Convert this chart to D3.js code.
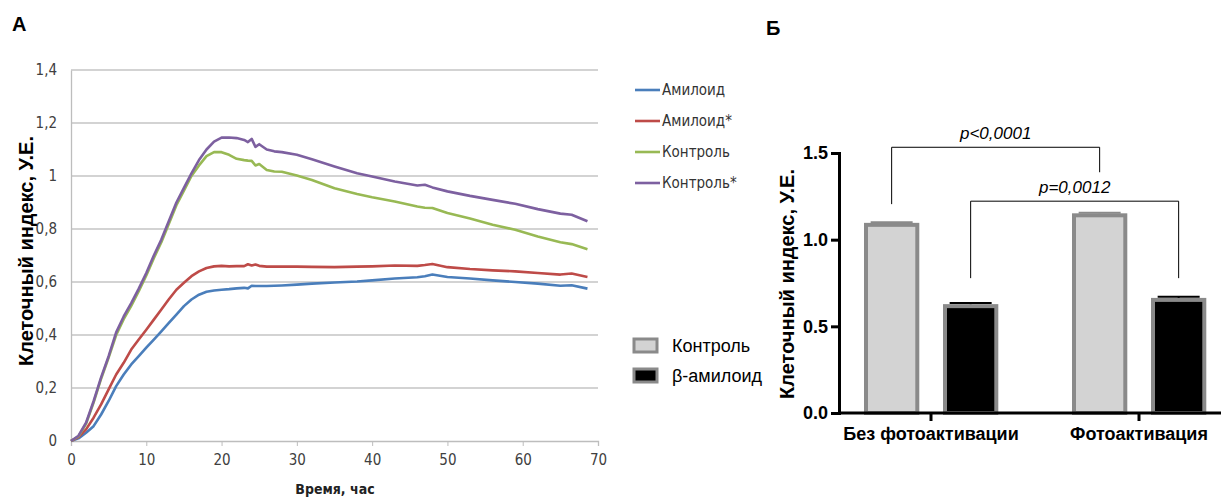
<!DOCTYPE html>
<html>
<head>
<meta charset="utf-8">
<script src="https://cdn.jsdelivr.net/npm/d3@7"></script>
<style>
    body { margin: 0; background: #fff; }
    svg { display: block; }
    .narrow { font-family: 'Liberation Sans Narrow', 'DejaVu Sans Condensed', sans-serif; }
    .arial { font-family: 'Liberation Sans', Arial, sans-serif; }
</style>
</head>
<body>
<svg id="chart" width="1221" height="499"></svg>
<script>
// Panel A: cell index over time (hours)
const HOURS = [0, 1, 2, 3, 4, 5, 6, 7, 8, 9, 10, 11, 12, 13, 14, 15, 16, 17, 18, 19, 20, 21, 22, 23, 23.5,
    24, 24.5, 25, 26, 27, 28, 30, 32, 35, 38, 40, 43, 46, 47, 48, 50, 53, 56, 59, 62, 65, 66.5, 68.6];

const AMYLOID = [0, 0.01, 0.031, 0.056, 0.10, 0.151, 0.207, 0.251, 0.289, 0.32, 0.352, 0.383, 0.414, 0.446, 0.477,
    0.509, 0.534, 0.552, 0.563, 0.568, 0.571, 0.573, 0.576, 0.578, 0.576, 0.586, 0.585, 0.585, 0.585, 0.586, 0.587,
    0.59, 0.594, 0.598, 0.602, 0.606, 0.613, 0.618, 0.622, 0.628, 0.619, 0.613, 0.606, 0.60, 0.594, 0.586, 0.588, 0.575];

const AMYLOID_STAR = [0, 0.015, 0.044, 0.088, 0.138, 0.195, 0.251, 0.295, 0.345, 0.383, 0.42, 0.458, 0.496, 0.535, 0.571,
    0.597, 0.622, 0.64, 0.653, 0.659, 0.661, 0.659, 0.66, 0.66, 0.667, 0.662, 0.666, 0.661, 0.658, 0.658, 0.658,
    0.658, 0.657, 0.656, 0.658, 0.659, 0.662, 0.661, 0.664, 0.668, 0.656, 0.649, 0.644, 0.64, 0.634, 0.628, 0.632, 0.619];

const CONTROL = [0, 0.018, 0.065, 0.145, 0.235, 0.315, 0.40, 0.46, 0.51, 0.565, 0.625, 0.69, 0.75, 0.82, 0.89,
    0.945, 1.0, 1.04, 1.075, 1.09, 1.09, 1.08, 1.065, 1.06, 1.058, 1.057, 1.04, 1.045, 1.023, 1.017, 1.016,
    1.002, 0.985, 0.954, 0.932, 0.92, 0.904, 0.885, 0.88, 0.879, 0.86, 0.84, 0.816, 0.797, 0.772, 0.75, 0.743, 0.724];

const CONTROL_STAR = [0, 0.02, 0.069, 0.15, 0.24, 0.32, 0.41, 0.47, 0.52, 0.575, 0.634, 0.70, 0.76, 0.83, 0.90,
    0.955, 1.01, 1.06, 1.10, 1.13, 1.145, 1.145, 1.143, 1.136, 1.128, 1.14, 1.11, 1.12, 1.10, 1.093, 1.09,
    1.08, 1.063, 1.036, 1.01, 0.998, 0.979, 0.964, 0.967, 0.957, 0.942, 0.925, 0.91, 0.895, 0.875, 0.858, 0.854, 0.829];

const LINE_NAMES = ['Амилоид', 'Амилоид*', 'Контроль', 'Контроль*'];
const LINE_VALUES = [AMYLOID, AMYLOID_STAR, CONTROL, CONTROL_STAR];
const LINE_COLORS = ['#4a7ebb', '#be4b48', '#98b954', '#7d60a0'];

const X_TICKS_A = [0, 10, 20, 30, 40, 50, 60, 70];
const Y_TICKS_A = [0, 0.2, 0.4, 0.6, 0.8, 1, 1.2, 1.4];

// Panel B: mean cell index
const GROUPS = ['Без фотоактивации', 'Фотоактивация'];
const BAR_SERIES = ['Контроль', 'β-амилоид'];
const BAR_VALUES = [[1.097, 0.628], [1.152, 0.664]];
const BAR_ERRORS = [[0.003, 0.006], [0.003, 0.006]];
const BAR_FILLS = ['#d3d3d3', '#000000'];
const Y_TICKS_B = [0, 0.5, 1.0, 1.5];

// significance brackets: [group, series] of both ends, level, leg ends, label
const BRACKETS = [
    { from: [0, 0], to: [1, 0], level: 1.533, legFrom: 1.205, legTo: 1.389, label: 'p<0,0001' },
    { from: [0, 1], to: [1, 1], level: 1.222, legFrom: 0.778, legTo: 0.778, label: 'p=0,0012' }
];

const svg = d3.select('#chart');

// ---------- panel A ----------
const xA = d3.scaleLinear().domain([0, 70]).range([71, 598]);
const yA = d3.scaleLinear().domain([0, 1.4]).range([441, 70]);
const gA = svg.append('g');

gA.append('g')
    .selectAll('line')
    .data(Y_TICKS_A.slice(1))
    .join('line')
    .attr('x1', xA(0)).attr('x2', xA(70))
    .attr('y1', d => yA(d)).attr('y2', d => yA(d))
    .attr('stroke', '#c4c4c4').attr('stroke-width', 1.3);

const axisXA = gA.append('g')
    .attr('transform', `translate(0,${yA(0)})`)
    .call(d3.axisBottom(xA).tickValues(X_TICKS_A).tickSize(5).tickPadding(8).tickFormat(d3.format('d')));
axisXA.select('.domain').attr('stroke', '#bdbdbd').attr('stroke-width', 1.3);
axisXA.selectAll('.tick line').attr('stroke', '#bdbdbd');
axisXA.selectAll('text').attr('class', 'narrow').attr('font-size', 15).attr('fill', '#404040');

const commaFmt = d => String(d).replace('.', ',');
const axisYA = gA.append('g')
    .attr('transform', `translate(${xA(0)},0)`)
    .call(d3.axisLeft(yA).tickValues(Y_TICKS_A).tickSize(0).tickPadding(14).tickFormat(commaFmt));
axisYA.select('.domain').attr('stroke', '#bdbdbd').attr('stroke-width', 1.3);
axisYA.selectAll('text').attr('class', 'narrow').attr('font-size', 15).attr('fill', '#404040');

const line = d3.line()
    .x((d, i) => xA(HOURS[i]))
    .y(d => yA(d));

gA.append('g')
    .selectAll('path')
    .data(LINE_VALUES)
    .join('path')
    .attr('d', d => line(d))
    .attr('fill', 'none')
    .attr('stroke', (d, i) => LINE_COLORS[i])
    .attr('stroke-width', 2.6)
    .attr('stroke-linejoin', 'round');

gA.append('text')
    .attr('class', 'arial')
    .attr('transform', 'translate(33,251) rotate(-90)')
    .attr('text-anchor', 'middle')
    .attr('font-size', 20).attr('font-weight', 'bold')
    .text('Клеточный индекс, У.Е.');

gA.append('text')
    .attr('class', 'narrow')
    .attr('x', 335).attr('y', 494)
    .attr('text-anchor', 'middle')
    .attr('font-size', 14).attr('font-weight', 'bold').attr('fill', '#222')
    .text('Время, час');

const legA = gA.append('g')
    .selectAll('g')
    .data(LINE_NAMES)
    .join('g')
    .attr('transform', (d, i) => `translate(635,${90 + i * 31})`);
legA.append('line')
    .attr('x1', 0).attr('x2', 25)
    .attr('stroke', (d, i) => LINE_COLORS[i]).attr('stroke-width', 2.6);
legA.append('text')
    .attr('class', 'narrow')
    .attr('x', 27).attr('y', 5)
    .attr('font-size', 15).attr('fill', '#333')
    .text(d => d);

svg.append('text')
    .attr('class', 'arial')
    .attr('x', 12).attr('y', 31)
    .attr('font-size', 20).attr('font-weight', 'bold')
    .text('А');

// ---------- panel B ----------
const x0 = d3.scaleBand().domain(GROUPS).range([827, 1243]);
const x1 = d3.scaleBand().domain(BAR_SERIES).range([37, 171.3]).paddingInner(0.3).paddingOuter(0);
const yB = d3.scaleLinear().domain([0, 1.5]).range([413, 153]);
const gB = svg.append('g');

const barCenter = (g, s) => x0(GROUPS[g]) + x1(BAR_SERIES[s]) + x1.bandwidth() / 2;

const groups = gB.append('g')
    .selectAll('g')
    .data(GROUPS)
    .join('g')
    .attr('transform', d => `translate(${x0(d)},0)`);

groups.selectAll('rect')
    .data((d, gi) => BAR_SERIES.map((s, si) => ({ s, si, v: BAR_VALUES[gi][si] })))
    .join('rect')
    .attr('x', d => x1(d.s) + 2)
    .attr('width', x1.bandwidth() - 4)
    .attr('y', d => yB(d.v) + 2)
    .attr('height', d => yB(0) - yB(d.v) - 2)
    .attr('fill', d => BAR_FILLS[d.si])
    .attr('stroke', '#8a8a8a')
    .attr('stroke-width', 4);

groups.selectAll('g.err')
    .data((d, gi) => BAR_SERIES.map((s, si) => ({ s, si, v: BAR_VALUES[gi][si], e: BAR_ERRORS[gi][si] })))
    .join('g')
    .attr('class', 'err')
    .each(function (d) {
        const cx = x1(d.s) + x1.bandwidth() / 2;
        const col = d.si === 0 ? '#8a8a8a' : '#000';
        const g = d3.select(this);
        g.append('line')
            .attr('x1', cx).attr('x2', cx)
            .attr('y1', yB(d.v)).attr('y2', yB(d.v + d.e))
            .attr('stroke', col).attr('stroke-width', 2);
        g.append('line')
            .attr('x1', cx - 21).attr('x2', cx + 21)
            .attr('y1', yB(d.v + d.e)).attr('y2', yB(d.v + d.e))
            .attr('stroke', col).attr('stroke-width', 2);
    });

const axisYB = gB.append('g')
    .attr('transform', 'translate(839,0)')
    .call(d3.axisLeft(yB).tickValues(Y_TICKS_B).tickSize(8).tickPadding(3).tickFormat(d3.format('.1f')));
axisYB.select('.domain').attr('stroke', '#000').attr('stroke-width', 3);
axisYB.selectAll('.tick line').attr('stroke', '#000').attr('stroke-width', 3);
axisYB.selectAll('text').attr('class', 'arial').attr('font-size', 18).attr('font-weight', 'bold').attr('fill', '#000');

const axisXB = gB.append('g')
    .attr('transform', `translate(0,${yB(0)})`)
    .call(d3.axisBottom(x0).tickSize(8).tickPadding(6).tickSizeOuter(0));
axisXB.select('.domain').attr('d', `M839,0H1221`).attr('stroke', '#000').attr('stroke-width', 3);
axisXB.selectAll('.tick line').attr('stroke', '#000').attr('stroke-width', 3);
axisXB.selectAll('text').attr('class', 'arial').attr('font-size', 18).attr('font-weight', 'bold').attr('fill', '#000');

gB.append('text')
    .attr('class', 'arial')
    .attr('transform', 'translate(794,284) rotate(-90)')
    .attr('text-anchor', 'middle')
    .attr('font-size', 20).attr('font-weight', 'bold')
    .text('Клеточный индекс, У.Е.');

BRACKETS.forEach(b => {
    const xa = barCenter(b.from[0], b.from[1]);
    const xb = barCenter(b.to[0], b.to[1]);
    gB.append('path')
        .attr('d', `M${xa},${yB(b.legFrom)}V${yB(b.level)}H${xb}V${yB(b.legTo)}`)
        .attr('fill', 'none').attr('stroke', '#000').attr('stroke-width', 1);
    gB.append('text')
        .attr('class', 'arial')
        .attr('x', (xa + xb) / 2).attr('y', yB(b.level) - 8)
        .attr('text-anchor', 'middle')
        .attr('font-size', 17).attr('font-style', 'italic')
        .text(b.label);
});

const legB = gB.append('g')
    .selectAll('g')
    .data(BAR_SERIES)
    .join('g')
    .attr('transform', (d, i) => `translate(634,${339 + i * 30})`);
legB.append('rect')
    .attr('width', 23).attr('height', 13)
    .attr('fill', (d, i) => BAR_FILLS[i])
    .attr('stroke', '#8a8a8a').attr('stroke-width', 3);
legB.append('text')
    .attr('class', 'arial')
    .attr('x', 38).attr('y', 13)
    .attr('font-size', 18)
    .text(d => d);

svg.append('text')
    .attr('class', 'arial')
    .attr('x', 766).attr('y', 35)
    .attr('font-size', 20).attr('font-weight', 'bold')
    .text('Б');
</script>
</body>
</html>
